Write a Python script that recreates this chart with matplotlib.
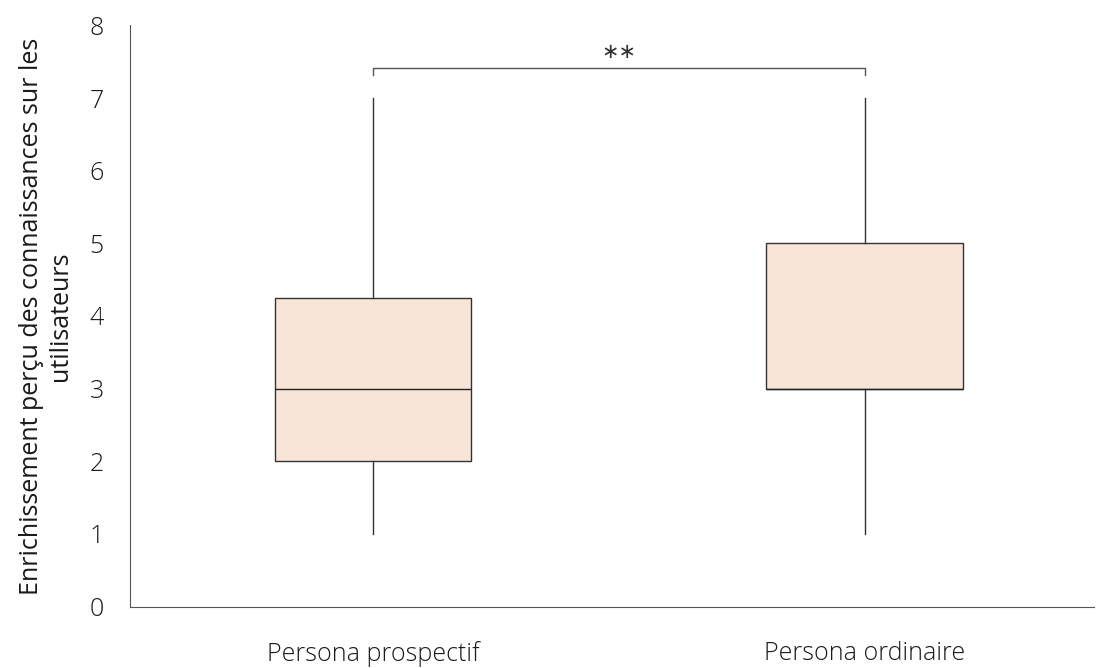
import matplotlib.pyplot as plt

# données
categories = ["Persona prospectif", "Persona ordinaire"]
whisker_low = [1, 1]
q1 = [2, 3]
median = [3, 3]
q3 = [4.25, 5]
whisker_high = [7, 7]

plt.rcParams['font.family'] = ['Open Sans', 'DejaVu Sans']
plt.rcParams['font.weight'] = 'light'
plt.rcParams['text.color'] = '#1a1a1a'
plt.rcParams['axes.labelcolor'] = '#1a1a1a'
plt.rcParams['xtick.color'] = '#1a1a1a'
plt.rcParams['ytick.color'] = '#1a1a1a'

fig, ax = plt.subplots(figsize=(11.03, 6.68), dpi=100)
fig.subplots_adjust(left=0.118, right=0.992, top=0.962, bottom=0.092)

stats = []
for i, name in enumerate(categories):
    stats.append({"label": name, "whislo": whisker_low[i], "q1": q1[i],
                  "med": median[i], "q3": q3[i], "whishi": whisker_high[i]})

ax.bxp(stats, positions=[0, 1], widths=0.4, showfliers=False, showcaps=False,
       patch_artist=True,
       boxprops=dict(facecolor='#f9e5d8', edgecolor='#333333', linewidth=1),
       medianprops=dict(color='#222222', linewidth=1),
       whiskerprops=dict(color='#333333', linewidth=1))

# crochet de significativité
y_br, h = 7.41, 0.09
ax.plot([0, 0, 1, 1], [y_br - h, y_br, y_br, y_br - h], color='#555555', lw=1)
ax.text(0.5, 7.63, "∗∗", ha='center', va='center', fontsize=15,
        family='DejaVu Sans', fontweight='normal', color='#333333')

ax.set_xlim(-0.494, 1.467)
ax.set_ylim(0, 8)
ax.set_yticks(range(0, 9))
ax.tick_params(axis='y', length=0, labelsize=18, pad=19)
ax.tick_params(axis='x', length=0, labelsize=18, pad=25)

ax.spines['top'].set_visible(False)
ax.spines['right'].set_visible(False)
ax.spines['left'].set_color('#555555')
ax.spines['bottom'].set_color('#555555')

ax.set_ylabel("Enrichissement perçu des connaissances sur les\nutilisateurs",
              fontsize=18, labelpad=12, linespacing=1.2)

fig.savefig("out.png", dpi=100)
